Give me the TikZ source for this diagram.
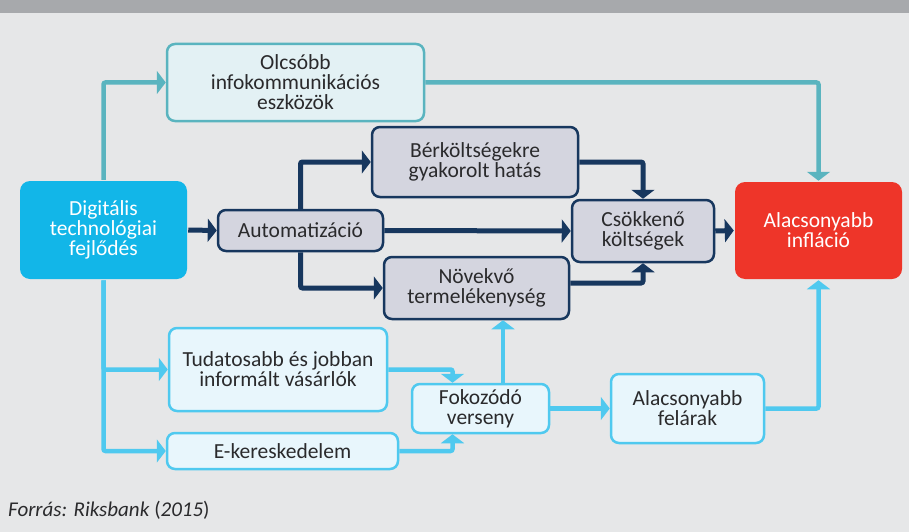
\documentclass[tikz,border=0pt]{standalone}
\usepackage{fontspec}
\setmainfont{Carlito}
\usetikzlibrary{positioning,arrows.meta}

\definecolor{bgcol}{HTML}{E6E7E8}
\definecolor{headcol}{HTML}{A7A9AC}
\definecolor{txtcol}{HTML}{2A2A2C}
\definecolor{digcol}{HTML}{12B6E8}
\definecolor{infcol}{HTML}{EE3529}
\definecolor{navycol}{HTML}{17375E}
\definecolor{navyfill}{HTML}{D4D5DF}
\definecolor{tealcol}{HTML}{5AB4BF}
\definecolor{tealfill}{HTML}{E3F1F4}
\definecolor{cyancol}{HTML}{4FC9EF}
\definecolor{cyanfill}{HTML}{E8F6FC}

\begin{document}
\begin{tikzpicture}[
  x=1pt, y=-1pt,
  bx/.style={draw, rectangle, rounded corners=8pt, line width=2.5pt,
             align=center, font=\fontsize{21.5}{20}\selectfont,
             text=txtcol, inner sep=0pt},
  bmain/.style={bx, draw=none, text=white, rounded corners=10pt},
  bdig/.style={bmain, fill=digcol},
  binf/.style={bmain, fill=infcol},
  bnavy/.style={bx, draw=navycol, fill=navyfill},
  bteal/.style={bx, draw=tealcol, fill=tealfill},
  bcyan/.style={bx, draw=cyancol, fill=cyanfill},
  arr/.style={-{Triangle[width=23pt,length=9pt]}, rounded corners=2pt},
  anavy/.style={arr, draw=navycol, line width=5pt},
  ateal/.style={arr, draw=tealcol, line width=4.5pt},
  acyan/.style={arr, draw=cyancol, line width=4.5pt}
]

%% ── background ──────────────────────────────────────────────────────────
\fill[bgcol] (0,0) rectangle (909,532);
\fill[headcol] (0,0) rectangle (909,13);

%% ── nodes ───────────────────────────────────────────────────────────────
\node[bdig, minimum width=167pt, minimum height=98pt] (dig) at (103.5,230)
  {Digitális\\ technológiai\\ fejlődés};
\node[binf, minimum width=167pt, minimum height=97pt] (inf) at (818.5,230.5)
  {Alacsonyabb\\ infláció};

% upper branch
\node[bteal, minimum width=257pt, minimum height=77pt] (olc) at (295.5,82.5)
  {Olcsóbb\\ infokommunikációs\\ eszközök};

% automation chain
\node[bnavy, minimum width=165pt, minimum height=41pt] (aut)  at (300.5,230.5) {Automatizáció};
\node[bnavy, minimum width=206pt, minimum height=70pt] (ber)  at (475,162)
  {Bérköltségekre\\ gyakorolt hatás};
\node[bnavy, minimum width=185pt, minimum height=62pt] (nov)  at (476.5,288)
  {Növekvő\\ termelékenység};
\node[bnavy, minimum width=142pt, minimum height=62pt] (csok) at (643,231)
  {Csökkenő\\ költségek};

% competition chain
\node[bcyan, minimum width=218pt, minimum height=83pt] (tud) at (278,369.5)
  {Tudatosabb és jobban\\ informált vásárlók};
\node[bcyan, minimum width=231pt, minimum height=36pt] (ekr) at (282.5,451) {E-kereskedelem};
\node[bcyan, minimum width=137pt, minimum height=49pt] (fok) at (480.5,408.5)
  {Fokozódó\\ verseny};
\node[bcyan, minimum width=153pt, minimum height=69pt] (fel) at (687.5,408.5)
  {Alacsonyabb\\ felárak};

\node[anchor=base west, inner sep=0pt, text=txtcol,
      font=\fontsize{21}{24}\selectfont] (src) at (8,516)
  {\textit{Forrás: Riksbank} (\textit{2015})};

%% ── edges ───────────────────────────────────────────────────────────────
% teal path
\draw[ateal] (dig.north) |- (olc.west);
\draw[ateal] (olc.east) -| (inf.north);

% navy path
\draw[anavy] (dig.east) -- (aut.west);
\draw[anavy] (aut.north) |- (ber.west);
\draw[anavy] (aut.south) |- (nov.west);
\draw[anavy] (aut.east) -- (csok.west);
\draw[anavy] (ber.east) -| (csok.north);
\draw[anavy] ([yshift=5pt]nov.east) -| (csok.south);
\draw[anavy] (csok.east) -- (inf.west);

% cyan path
\draw[acyan] (dig.south) |- (tud.west);
\draw[acyan] (dig.south) |- (ekr.west);
\draw[acyan] (tud.east) -| ([xshift=-28pt]fok.north);
\draw[acyan] (ekr.east) -| ([xshift=-28pt]fok.south);
\coordinate (fokup) at ([xshift=22.5pt]fok.north);
\draw[acyan] (fokup) -- (fokup |- nov.south);
\draw[acyan] (fok.east) -- (fel.west);
\draw[acyan] (fel.east) -| (inf.south);

\end{tikzpicture}
\end{document}
